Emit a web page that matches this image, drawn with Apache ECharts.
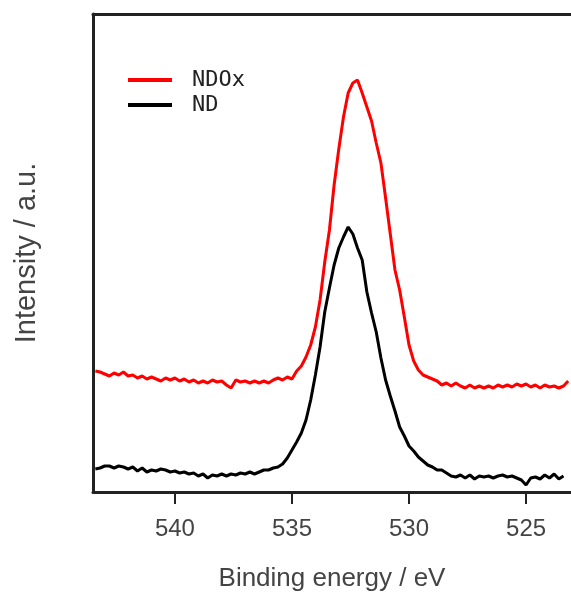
<!DOCTYPE html>
<html>
<head>
<meta charset="utf-8">
<script src="https://cdn.jsdelivr.net/npm/echarts@6/dist/echarts.min.js"></script>
<style>
html,body{margin:0;padding:0;background:#fff;}
#chart{width:571px;height:599px;}
</style>
</head>
<body>
<div id="chart"></div>
<script>
// Binding energy (eV)
var energies = [
543.4,543.2,543.0,542.8,542.6,542.4,542.2,542.0,541.8,541.6,
541.4,541.2,541.0,540.8,540.6,540.4,540.2,540.0,539.8,539.6,
539.4,539.2,539.0,538.8,538.6,538.4,538.2,538.0,537.8,537.6,
537.4,537.2,537.0,536.8,536.6,536.4,536.2,536.0,535.8,535.6,
535.4,535.2,535.0,534.8,534.6,534.4,534.2,534.0,533.8,533.6,
533.4,533.2,533.0,532.8,532.6,532.4,532.2,532.0,531.8,531.6,
531.4,531.2,531.0,530.8,530.6,530.4,530.2,530.0,529.8,529.6,
529.4,529.2,529.0,528.8,528.6,528.4,528.2,528.0,527.8,527.6,
527.4,527.2,527.0,526.8,526.6,526.4,526.2,526.0,525.8,525.6,
525.4,525.2,525.0,524.8,524.6,524.4,524.2,524.0,523.8,523.6,
523.4,523.2
];
// Intensity (a.u.)
var ndox = [
121,120,118,116,119,117,120,116,117,114,
116,113,115,113,111,114,112,114,111,113,
110,112,109,111,109,112,110,111,107,104,
112,110,111,109,111,109,111,109,112,114,
112,115,113,121,126,135,147,165,192,230,
262,307,343,375,399,409,412,399,385,371,
349,329,294,258,222,202,175,147,131,122,
117,115,113,111,107,109,106,109,106,104,
107,104,106,104,106,104,107,105,107,105,
108,106,108,105,107,104,107,105,106,104,
106,111
];
var nd = [
23,24,26,26,24,26,25,23,25,21,
24,20,22,21,23,22,20,21,19,20,
18,19,16,18,14,17,16,18,16,18,
17,19,18,20,18,20,22,22,24,25,
28,34,42,50,59,72,92,117,145,180,
204,227,244,255,265,258,244,232,200,179,
160,134,112,96,81,65,56,46,41,35,
31,27,25,22,22,19,16,15,17,14,
17,13,16,15,16,14,16,17,15,16,
14,12,7,14,15,13,17,14,18,13,
16,null
];
var xTicks = [540, 535, 530, 525];
var seriesNames = ['NDOx', 'ND'];

function pairs(vals) {
  return energies.map(function (e, i) { return [e, vals[i]]; });
}

var chart = echarts.init(document.getElementById('chart'), null, {renderer: 'canvas'});
var axisColor = '#222';
chart.setOption({
  backgroundColor: '#fff',
  animation: false,
  grid: {left: 93, right: 0, top: 14, bottom: 107, containLabel: false},
  legend: {
    orient: 'vertical',
    left: 128,
    top: 69,
    padding: 0,
    itemGap: 3,
    itemWidth: 44,
    itemHeight: 4,
    icon: 'rect',
    data: seriesNames,
    textStyle: {
      fontFamily: 'DejaVu Sans Mono',
      fontSize: 22,
      color: '#222',
      padding: [0, 0, 0, 15]
    }
  },
  xAxis: [{
    type: 'value',
    inverse: true,
    min: 523.08,
    max: 543.5,
    interval: 5,
    position: 'bottom',
    splitLine: {show: false},
    axisLine: {show: true, onZero: false, lineStyle: {color: axisColor, width: 3}},
    axisTick: {show: true, length: 12, lineStyle: {color: axisColor, width: 2},
      customValues: xTicks},
    axisLabel: {show: true, margin: 25, fontSize: 24, color: '#444',
      fontFamily: 'Liberation Sans, Arial', customValues: xTicks},
    name: 'Binding energy / eV',
    nameLocation: 'middle',
    nameGap: 74,
    nameTextStyle: {fontSize: 26, color: '#444', fontFamily: 'Liberation Sans, Arial'}
  }, {
    type: 'value',
    inverse: true,
    min: 523.08,
    max: 543.5,
    position: 'top',
    splitLine: {show: false},
    axisLine: {show: true, onZero: false, lineStyle: {color: axisColor, width: 3}},
    axisTick: {show: false},
    axisLabel: {show: false}
  }],
  yAxis: {
    type: 'value',
    min: 0,
    max: 478,
    splitLine: {show: false},
    axisLine: {show: true, onZero: false, lineStyle: {color: axisColor, width: 3}},
    axisTick: {show: false},
    axisLabel: {show: false},
    name: 'Intensity / a.u.',
    nameLocation: 'middle',
    nameGap: 52,
    nameTextStyle: {fontSize: 29, color: '#444', fontFamily: 'Liberation Sans, Arial'}
  },
  series: [{
    name: 'NDOx',
    type: 'line',
    data: pairs(ndox),
    showSymbol: false,
    symbol: 'none',
    color: '#ff0000',
    lineStyle: {color: '#ff0000', width: 3},
    z: 2
  }, {
    name: 'ND',
    type: 'line',
    data: pairs(nd),
    showSymbol: false,
    symbol: 'none',
    color: '#000000',
    lineStyle: {color: '#000000', width: 3},
    z: 3
  }]
});
</script>
</body>
</html>
